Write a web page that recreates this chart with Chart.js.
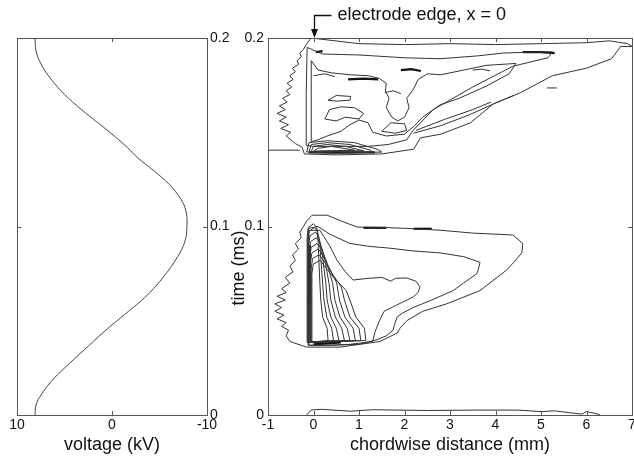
<!DOCTYPE html>
<html>
<head>
<meta charset="utf-8">
<script src="https://cdn.jsdelivr.net/npm/chart.js@4.4.0/dist/chart.umd.min.js"></script>
<style>
  body { margin: 0; background: #fff; }
  #wrap { position: relative; width: 634px; height: 457px; overflow: hidden; }
  canvas { position: absolute; top: 0; }
  #volt { left: 0; }
  #contour { left: 222px; }
</style>
</head>
<body>
<div id="wrap">
  <canvas id="volt" width="240" height="457"></canvas>
  <canvas id="contour" width="412" height="457"></canvas>
</div>
<script>
// tick values
const timeTicks = [0, 0.1, 0.2];
const voltTicks = [10, 0, -10];
const distTicks = [-1, 0, 1, 2, 3, 4, 5, 6, 7];

// applied voltage (kV) vs time (ms)
const voltTime = [0, 0.0053, 0.0106, 0.0177, 0.0248, 0.0346, 0.0443, 0.0532, 0.0621, 0.0727, 0.0840, 0.0922,
  0.1002, 0.1081, 0.1144, 0.1223, 0.1294, 0.1365, 0.1418, 0.1480, 0.1552, 0.1622, 0.1702, 0.1782, 0.1862, 0.1932, 0.2];
const voltage = [8.1, 8.0, 7.47, 6.42, 5.02, 2.92, 0.81, -1.29, -3.40, -5.33, -6.91, -7.68,
  -7.89, -7.79, -7.26, -6.03, -4.45, -2.69, -1.64, -0.24, 1.52, 3.26, 5.02, 6.42, 7.47, 8.0, 8.1];

// contour lines, [chordwise distance (mm), time (ms)]
// lower discharge (negative half cycle)
const lowerOuter = [[-0.15,0.103],[-0.03,0.106],[0.3,0.106],[0.6,0.103],[0.96,0.0997],[1.5,0.0995],[2.05,0.099],
  [2.8,0.098],[3.5,0.0965],[4.38,0.0955],[4.6,0.091],[4.58,0.086],[4.4,0.081],[4.25,0.077],[3.66,0.066],[2.93,0.059],
  [2.4,0.055],[2.05,0.05],[1.9,0.046],[1.84,0.0435],[1.46,0.039],[0.58,0.036],[-0.15,0.036],[-0.52,0.039],[-0.6,0.042],
  [-0.55,0.045],[-0.7,0.047],[-0.6,0.049],[-0.8,0.051],[-0.65,0.053],[-0.85,0.055],[-0.7,0.057],[-0.85,0.059],
  [-0.62,0.061],[-0.8,0.063],[-0.6,0.065],[-0.7,0.067],[-0.52,0.07],[-0.62,0.073],[-0.45,0.076],[-0.52,0.079],
  [-0.4,0.082],[-0.46,0.085],[-0.33,0.088],[-0.4,0.091],[-0.27,0.094],[-0.3,0.097],[-0.22,0.1],[-0.15,0.103]];
const lowerSecond = [[-0.12,0.099],[0.1,0.1],[0.35,0.096],[0.8,0.091],[1.2,0.0895],[1.68,0.0885],[2.2,0.087],
  [2.78,0.086],[3.3,0.084],[3.66,0.081],[3.62,0.077],[3.59,0.075],[3.3,0.07],[3.07,0.066],[2.6,0.061],[2.19,0.057],
  [1.95,0.054],[1.84,0.052],[1.78,0.048],[1.75,0.045],[1.6,0.042],[1.4,0.04],[1.0,0.0375],[0.4,0.037],[-0.12,0.037],[-0.12,0.099]];
const lowerThird = [[-0.1,0.098],[0.14,0.098],[0.35,0.09],[0.52,0.082],[0.7,0.076],[0.87,0.0716],[1.2,0.0725],
  [1.5,0.073],[1.7,0.071],[1.8,0.0725],[2.05,0.0727],[2.25,0.071],[2.34,0.068],[2.3,0.065],[2.19,0.0626],[1.8,0.058],
  [1.55,0.055],[1.45,0.05],[1.35,0.044],[1.3,0.039],[0.8,0.0375],[0.3,0.037],[-0.1,0.037],[-0.1,0.098]];
const fan1 = [[-0.14,0.0385],[-0.14,0.0945],[-0.11,0.0995],[0.0,0.1015],[0.07,0.0995],[0.1,0.0925],[0.14,0.07],[0.16,0.061],[0.2,0.052],[0.3,0.046],[0.32,0.0395],[-0.14,0.0385]];
const fan2 = [[-0.125,0.0385],[-0.125,0.0925],[-0.095,0.0975],[0.02,0.0995],[0.09,0.0975],[0.14,0.0905],[0.2,0.07],[0.23,0.061],[0.29,0.052],[0.4,0.046],[0.44,0.0395],[-0.125,0.0385]];
const fan3 = [[-0.11,0.0385],[-0.11,0.09],[-0.08,0.095],[0.04,0.097],[0.11,0.095],[0.18,0.088],[0.27,0.07],[0.3,0.061],[0.38,0.052],[0.5,0.046],[0.56,0.0395],[-0.11,0.0385]];
const fan4 = [[-0.095,0.0385],[-0.095,0.087],[-0.065,0.092],[0.06,0.094],[0.13,0.092],[0.23,0.085],[0.34,0.07],[0.38,0.061],[0.48,0.052],[0.62,0.046],[0.68,0.0395],[-0.095,0.0385]];
const fan5 = [[-0.08,0.0385],[-0.08,0.084],[-0.05,0.089],[0.08,0.091],[0.15,0.089],[0.28,0.082],[0.42,0.07],[0.47,0.061],[0.58,0.052],[0.74,0.046],[0.8,0.0395],[-0.08,0.0385]];
const fan6 = [[-0.065,0.0385],[-0.065,0.081],[-0.035,0.086],[0.1,0.088],[0.17,0.086],[0.33,0.079],[0.51,0.07],[0.57,0.061],[0.69,0.052],[0.87,0.046],[0.92,0.0395],[-0.065,0.0385]];
const fan7 = [[-0.05,0.0385],[-0.05,0.078],[-0.02,0.083],[0.12,0.085],[0.19,0.083],[0.38,0.076],[0.61,0.068],[0.68,0.061],[0.8,0.052],[1.0,0.046],[1.04,0.0395],[-0.05,0.0385]];
const fan8 = [[-0.035,0.0385],[-0.035,0.075],[-0.005,0.08],[0.14,0.082],[0.21,0.08],[0.44,0.073],[0.72,0.066],[0.8,0.061],[0.93,0.052],[1.12,0.046],[1.15,0.0395],[-0.035,0.0385]];
const nearZero = [[-0.15,0],[-0.05,0.0027],[0.2,0.003],[0.8,0.002],[1.3,0.0028],[2.5,0.0024],[3.5,0.0026],[4.5,0.0026],
  [5.0,0.0018],[5.3,0.0022],[5.7,0.001],[5.9,0.0005],[6.0,0.0018],[6.25,0.0005],[6.3,0]];

// upper discharge (positive half cycle)
const upperOuter = [[-0.05,0.2],[1,0.197],[2,0.1965],[3,0.197],[4,0.1965],[5,0.197],[6,0.1975],[6.5,0.1985],[6.9,0.197],
  [7,0.1955],[6.75,0.1955],[6.55,0.189],[6,0.184],[5.25,0.18],[4.55,0.171],[3.95,0.165],[3.45,0.155],[2.8,0.149],[2.35,0.147],
  [2.2,0.141],[1.5,0.1385],[0.5,0.138],[-0.2,0.1385],[-0.25,0.142],[-0.4,0.144],[-0.6,0.148],[-0.5,0.150],[-0.72,0.152],
  [-0.55,0.154],[-0.75,0.156],[-0.6,0.158],[-0.8,0.160],[-0.62,0.162],[-0.75,0.164],[-0.58,0.166],[-0.68,0.168],
  [-0.52,0.17],[-0.6,0.172],[-0.48,0.174],[-0.58,0.176],[-0.45,0.178],[-0.52,0.18],[-0.4,0.182],[-0.46,0.184],
  [-0.33,0.186],[-0.36,0.188],[-0.27,0.19],[-0.3,0.192],[-0.22,0.194],[-0.15,0.197],[-0.05,0.2]];
const upperEdge = [[-1,0.1405],[-0.3,0.1405]];
const upperSecond = [[-0.16,0.143],[-0.16,0.17],[-0.14,0.195],[0.2,0.1915],[1,0.191],[2,0.1895],[2.78,0.189],[3.6,0.1905],
  [4.16,0.192],[4.8,0.1925],[5.26,0.1926],[5.15,0.1895],[4.38,0.185],[3.5,0.174],[2.63,0.162],[2.19,0.151],[2.05,0.146],
  [1.64,0.1435],[1.2,0.1425],[0.5,0.1425],[0,0.1425],[-0.16,0.143]];
const upperThird = [[-0.05,0.145],[-0.05,0.188],[0.1,0.183],[0.4,0.1815],[0.8,0.1805],[1.2,0.18],[1.45,0.1785],[1.6,0.176],
  [1.58,0.172],[1.66,0.168],[1.6,0.163],[1.72,0.158],[1.85,0.156],[2.0,0.158],[2.1,0.163],[2.05,0.168],[2.2,0.173],
  [2.3,0.178],[2.5,0.181],[2.8,0.1805],[3.2,0.1825],[3.8,0.1855],[4.45,0.1865],[4.3,0.181],[3.8,0.1745],[3.2,0.168],
  [2.78,0.1645],[2.4,0.158],[2.2,0.153],[2.0,0.149],[1.6,0.148],[1.3,0.15],[1.2,0.155],[1.0,0.1565],[0.8,0.154],
  [0.6,0.1505],[0.3,0.148],[0.1,0.146],[-0.05,0.145]];
const upperLobe = [[0.25,0.157],[0.35,0.162],[0.6,0.1635],[0.9,0.163],[1.1,0.16],[1.0,0.157],[0.7,0.158],[0.5,0.156],[0.25,0.157]];
const upperRay1 = [[2.2,0.1495],[2.8,0.1535],[3.4,0.159],[4.0,0.1655],[4.4,0.1695]];
const upperRay2 = [[2.25,0.151],[2.9,0.157],[3.5,0.162],[3.9,0.166]];
const upperOval = [[1.5,0.1505],[1.7,0.155],[2.0,0.1545],[2.05,0.151],[1.8,0.1495],[1.5,0.1505]];
const upperBase1 = [[-0.15,0.1395],[-0.1,0.1445],[0.3,0.1455],[0.9,0.1445],[1.4,0.141],[1.5,0.1395],[0.5,0.1388],[-0.15,0.1395]];
const upperBase2 = [[-0.1,0.1395],[-0.05,0.1435],[0.3,0.1445],[0.8,0.1435],[1.25,0.1405],[1.3,0.1395],[-0.1,0.1395]];
const upperBase3 = [[-0.05,0.1398],[0.0,0.1425],[0.3,0.1435],[0.7,0.1425],[1.1,0.1402],[-0.05,0.1398]];
const upperBase4 = [[0.0,0.14],[0.1,0.1415],[0.4,0.1425],[0.9,0.1405],[0.0,0.14]];
const upperIsland = [[0.32,0.167],[0.5,0.1695],[0.82,0.169],[0.8,0.167],[0.5,0.1665],[0.32,0.167]];
const upperBit1 = [[0.0,0.18],[0.25,0.181],[0.47,0.1795]];
const upperBit2 = [[1.57,0.171],[1.75,0.172],[1.92,0.1705]];
const upperBit3 = [[3.5,0.183],[3.7,0.1835],[3.88,0.1825]];
const upperBit4 = [[5.13,0.1735],[5.35,0.1735]];

// short dark dashes where contours pile up
const darkBase = [[-0.1,0.1393],[1.35,0.1393]];
const darkBit1 = [[0.76,0.178],[1.1,0.1785],[1.42,0.178]];
const darkBit2 = [[1.92,0.183],[2.15,0.1835],[2.36,0.1825]];
const darkBit3 = [[4.6,0.1925],[5.0,0.1925],[5.3,0.192]];
const darkBit4 = [[0.05,0.1925],[0.2,0.193]];
const darkBit5 = [[1.1,0.0993],[1.6,0.0993]];
const darkBit6 = [[2.2,0.0988],[2.6,0.0988]];
const darkBit7 = [[0.0,0.0375],[0.6,0.0385]];
const darkBit8 = [[-0.1,0.06],[-0.08,0.09]];

const thinLines = [lowerOuter, lowerSecond, lowerThird, fan1, fan2, fan3, fan4, fan5, fan6, fan7, fan8, nearZero,
  upperOuter, upperEdge, upperSecond, upperThird, upperLobe, upperRay1, upperRay2, upperOval,
  upperBase1, upperBase2, upperBase3, upperBase4, upperIsland, upperBit1, upperBit2, upperBit3, upperBit4];
const thickLines = [darkBase, darkBit1, darkBit2, darkBit3, darkBit4, darkBit5, darkBit6, darkBit7, darkBit8];

const fontFamily = '"Liberation Sans", Arial, sans-serif';
const tickFont = { family: fontFamily, size: 14 };
const titleFont = { family: fontFamily, size: 18 };

// boxed frame with short inward tick marks, like the original figure
const framePlugin = {
  id: 'frame',
  afterDraw(chart) {
    const { ctx, chartArea: a, scales } = chart;
    const L = 4;
    ctx.save();
    ctx.strokeStyle = '#555';
    ctx.lineWidth = 1;
    ctx.strokeRect(a.left + 0.5, a.top + 0.5, a.right - a.left, a.bottom - a.top);
    ctx.beginPath();
    scales.x.ticks.forEach(tk => {
      const px = Math.round(scales.x.getPixelForValue(tk.value)) + 0.5;
      ctx.moveTo(px, a.bottom); ctx.lineTo(px, a.bottom - L);
      ctx.moveTo(px, a.top); ctx.lineTo(px, a.top + L);
    });
    scales.y.ticks.forEach(tk => {
      const py = Math.round(scales.y.getPixelForValue(tk.value)) + 0.5;
      ctx.moveTo(a.left, py); ctx.lineTo(a.left + L, py);
      ctx.moveTo(a.right, py); ctx.lineTo(a.right - L, py);
    });
    ctx.stroke();
    ctx.restore();
  }
};

// "electrode edge" label with the bent arrow, plus the time axis title (sits below centre in the original)
const notesPlugin = {
  id: 'notes',
  afterDraw(chart) {
    const { ctx, scales } = chart;
    const px = Math.round(scales.x.getPixelForValue(0)) + 0.5;
    const py = scales.y.getPixelForValue(0.2);
    ctx.save();
    ctx.strokeStyle = '#111';
    ctx.fillStyle = '#111';
    ctx.lineWidth = 1.3;
    ctx.beginPath();
    ctx.moveTo(px + 17, 15.5);
    ctx.lineTo(px, 15.5);
    ctx.lineTo(px, py - 6);
    ctx.stroke();
    ctx.beginPath();
    ctx.moveTo(px - 3.5, py - 9);
    ctx.lineTo(px + 3.5, py - 9);
    ctx.lineTo(px, py);
    ctx.closePath();
    ctx.fill();
    ctx.font = '18px ' + fontFamily;
    ctx.textBaseline = 'middle';
    ctx.fillText('electrode edge, x = 0', px + 23, 15);

    ctx.translate(17, scales.y.getPixelForValue(0.078));
    ctx.rotate(-Math.PI / 2);
    ctx.textAlign = 'center';
    ctx.fillText('time (ms)', 0, 0);
    ctx.restore();
  }
};

function fixedTicks(values) {
  return scale => { scale.ticks = values.map(v => ({ value: v })); };
}

function noPad(size, dim) {
  return scale => {
    scale[dim] = size;
    scale.paddingLeft = 0; scale.paddingRight = 0;
    scale.paddingTop = 0; scale.paddingBottom = 0;
  };
}

function toPoints(list) {
  return list.map(([x, y]) => ({ x, y }));
}

// left panel: voltage waveform
new Chart(document.getElementById('volt'), {
  type: 'scatter',
  data: {
    datasets: [{
      data: voltTime.map((t, i) => ({ x: voltage[i], y: t })),
      showLine: true,
      borderColor: '#444',
      borderWidth: 1,
      pointRadius: 0,
      tension: 0.4
    }]
  },
  options: {
    responsive: false,
    animation: false,
    devicePixelRatio: 1,
    layout: { padding: { left: 17, top: 38, right: 0, bottom: 0 } },
    plugins: { legend: { display: false }, tooltip: { enabled: false } },
    scales: {
      x: {
        type: 'linear', min: -10, max: 10, reverse: true,
        afterBuildTicks: fixedTicks(voltTicks),
        afterFit: noPad(42, 'height'),
        grid: { display: false, drawTicks: false },
        border: { display: false },
        ticks: { padding: 2, color: '#111', font: tickFont, maxRotation: 0, autoSkip: false, callback: v => String(v) },
        title: { display: true, text: 'voltage (kV)', color: '#111', font: titleFont, padding: { top: 0, bottom: 1 } }
      },
      y: {
        type: 'linear', position: 'right', min: 0, max: 0.2,
        afterBuildTicks: fixedTicks(timeTicks),
        afterFit: noPad(33, 'width'),
        grid: { display: false, drawTicks: false },
        border: { display: false },
        ticks: { padding: 3, color: '#111', font: tickFont, autoSkip: false, callback: v => String(v) }
      }
    }
  },
  plugins: [framePlugin]
});

// right panel: contour map of the discharge
const datasets = thinLines.map(c => ({
  data: toPoints(c), showLine: true, borderColor: '#333', borderWidth: 1, pointRadius: 0, tension: 0
})).concat(thickLines.map(c => ({
  data: toPoints(c), showLine: true, borderColor: '#111', borderWidth: 2.2, pointRadius: 0, tension: 0
})));

new Chart(document.getElementById('contour'), {
  type: 'scatter',
  data: { datasets },
  options: {
    responsive: false,
    animation: false,
    devicePixelRatio: 1,
    layout: { padding: { left: 0, top: 38, right: 2, bottom: 0 } },
    plugins: { legend: { display: false }, tooltip: { enabled: false } },
    scales: {
      x: {
        type: 'linear', min: -1, max: 7,
        afterBuildTicks: fixedTicks(distTicks),
        afterFit: noPad(42, 'height'),
        grid: { display: false, drawTicks: false },
        border: { display: false },
        ticks: { padding: 2, color: '#111', font: tickFont, maxRotation: 0, autoSkip: false, callback: v => String(v) },
        title: { display: true, text: 'chordwise distance (mm)', color: '#111', font: titleFont, padding: { top: 0, bottom: 1 } }
      },
      y: {
        type: 'linear', position: 'left', min: 0, max: 0.2,
        afterBuildTicks: fixedTicks(timeTicks),
        afterFit: noPad(46, 'width'),
        grid: { display: false, drawTicks: false },
        border: { display: false },
        ticks: { padding: 4, color: '#111', font: tickFont, autoSkip: false, callback: v => String(v) }
      }
    }
  },
  plugins: [framePlugin, notesPlugin]
});
</script>
</body>
</html>
